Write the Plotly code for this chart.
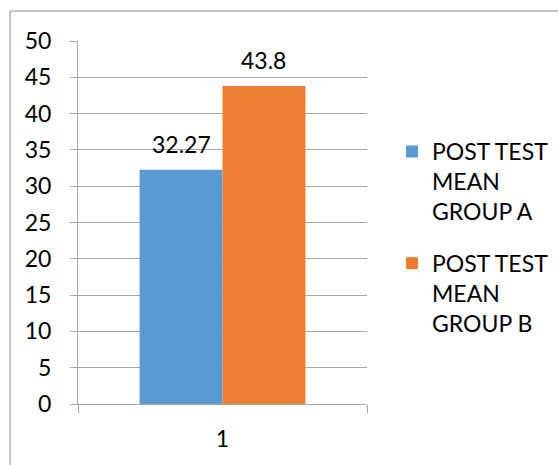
import plotly.graph_objects as go

categories = ["1"]
series_names = ["POST TEST<br>MEAN<br>GROUP A", "POST TEST<br>MEAN<br>GROUP B"]
group_a = [32.27]
group_b = [43.8]
colors = ["#5B9BD5", "#ED7D31"]
y_ticks = [0, 5, 10, 15, 20, 25, 30, 35, 40, 45, 50]

FONT = "Lato"
FS = 23
GRID = "#a6a6a6"
BARGAP = 0.426

W, H = 558, 465
L, R, T, B = 78, 191, 41, 61
pw, ph = W - L - R, H - T - B
bar_px = pw * (1 - BARGAP) / 2

fig = go.Figure()
annotations = []
for i, (name, vals) in enumerate(zip(series_names, [group_a, group_b])):
    fig.add_trace(go.Bar(
        x=categories, y=vals, name=name,
        marker=dict(color=colors[i], line=dict(width=0)),
        legendgroup=f"g{i}",
    ))
    for ci, v in enumerate(vals):
        annotations.append(dict(
            x=ci, y=v, xref="x", yref="y", text=f"{v:g}", showarrow=False,
            xshift=(i - 0.5) * bar_px, yshift=26, yanchor="middle",
            font=dict(family=FONT, size=FS, color="#000000"),
        ))

fig.update_layout(
    width=W, height=H,
    margin=dict(l=L, r=R, t=T, b=B, pad=0, autoexpand=False),
    paper_bgcolor="white", plot_bgcolor="white",
    barmode="group", bargap=BARGAP, bargroupgap=0,
    font=dict(family=FONT, size=FS, color="#000000"),
    showlegend=True,
    legend=dict(
        x=(392 - L) / pw, y=(404 - 130) / ph, xanchor="left", yanchor="top",
        valign="top", tracegroupgap=19, itemwidth=30,
        font=dict(family=FONT, size=FS, color="#000000"),
        bgcolor="rgba(0,0,0,0)",
    ),
    xaxis=dict(
        type="category", showline=True, linecolor=GRID, linewidth=1,
        ticks="outside", tickson="boundaries", ticklen=8, tickcolor=GRID,
        showgrid=False, ticklabelstandoff=14,
        tickfont=dict(family=FONT, size=FS),
    ),
    yaxis=dict(
        range=[0, 50], tickvals=y_ticks, showgrid=True, gridcolor=GRID, gridwidth=1,
        showline=True, linecolor=GRID, linewidth=1, zeroline=False,
        ticks="outside", ticklen=7, tickcolor=GRID, ticklabelstandoff=14,
        tickfont=dict(family=FONT, size=FS),
    ),
    annotations=annotations,
    shapes=[dict(
        type="rect", xref="paper", yref="paper", layer="above",
        x0=(10 - L) / pw, x1=(W + 5 - L) / pw,
        y0=(ph + T - (H + 5)) / ph, y1=(ph + T - 11) / ph,
        line=dict(color="#8c8c8c", width=1), fillcolor="rgba(0,0,0,0)",
    )],
)

fig.write_html("out.html")
